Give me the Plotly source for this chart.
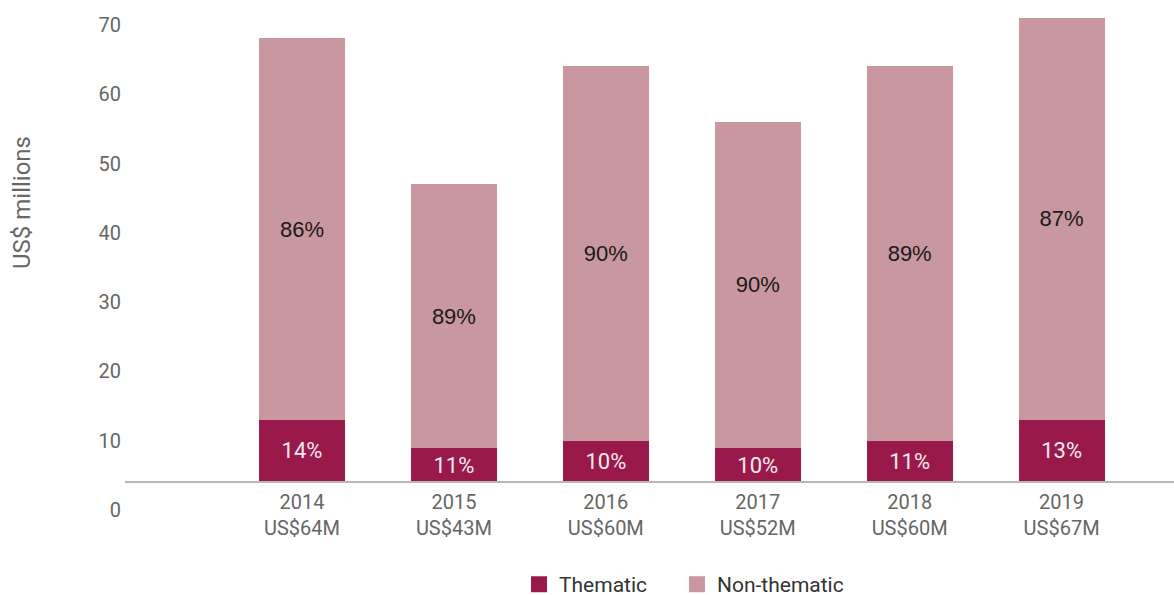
import plotly.graph_objects as go

years = ["2014", "2015", "2016", "2017", "2018", "2019"]
totals_label = ["US$64M", "US$43M", "US$60M", "US$52M", "US$60M", "US$67M"]
thematic = [9.0, 4.9, 5.9, 4.9, 5.9, 9.0]
non_thematic = [55.0, 38.1, 54.1, 47.1, 54.1, 58.0]
thematic_pct = [14, 11, 10, 10, 11, 13]
non_thematic_pct = [86, 89, 90, 90, 89, 87]
y_ticks = [0, 10, 20, 30, 40, 50, 60, 70]

THEMATIC = "#991a4a"
NON_THEMATIC = "#c9979f"
GREY = "#666666"

cats = [f"{y}<br>{t}" for y, t in zip(years, totals_label)]

fig = go.Figure()

fig.add_trace(go.Bar(
    x=cats, y=thematic, name="Thematic",
    marker=dict(color=THEMATIC, line=dict(width=0)),
    text=[f"{p}%" for p in thematic_pct],
    textposition="inside", insidetextanchor="middle", textangle=0,
    constraintext="none",
    textfont=dict(family="Roboto", size=22, color="#f6eaf0"),
    width=0.566, showlegend=False,
))
fig.add_trace(go.Bar(
    x=cats, y=non_thematic, name="Non-thematic",
    marker=dict(color=NON_THEMATIC, line=dict(width=0)),
    text=[f"{p}%" for p in non_thematic_pct],
    textposition="inside", insidetextanchor="middle", textangle=0,
    constraintext="none",
    textfont=dict(family="Liberation Sans", size=22, color="#1a1a1a"),
    width=0.566, showlegend=False,
))

# legend entries with bigger square swatches, one legend each so the gap matches
for name, col, lg in [("Thematic", THEMATIC, "legend"),
                      ("Non-thematic", NON_THEMATIC, "legend2")]:
    fig.add_trace(go.Scatter(
        x=[None], y=[None], mode="markers", name=name, legend=lg,
        marker=dict(symbol="square", size=16, color=col),
    ))

# tick labels in the source sit about 4 units below their gridline value
offset = 4.05

legend_style = dict(
    orientation="h", xanchor="left", y=-0.105, yanchor="middle",
    font=dict(size=21, color="#333333"), itemwidth=30,
)

fig.update_layout(
    width=1174, height=595,
    margin=dict(l=125, r=0, t=10, b=65, autoexpand=False),
    barmode="stack",
    plot_bgcolor="white", paper_bgcolor="white",
    font=dict(family="Roboto", color=GREY),
    xaxis=dict(
        type="category", range=[-1.165, 5.74],
        anchor="free", position=(530 - 482) / 520,
        showline=True, linecolor="#b8b8b8", linewidth=1.5,
        ticks="", showgrid=False, zeroline=False, automargin=False,
        tickfont=dict(size=20, color=GREY), ticklabelstandoff=2,
    ),
    yaxis=dict(
        range=[-6.93, 68.11],
        tickvals=[v - offset for v in y_ticks],
        ticktext=[str(v) for v in y_ticks],
        showgrid=False, zeroline=False, showline=False, ticks="",
        automargin=False,
        tickfont=dict(size=20, color=GREY),
        ticklabelstandoff=3,
    ),
    legend=dict(x=0.3756, **legend_style),
    legend2=dict(x=0.5262, **legend_style),
    annotations=[dict(
        text="US$ millions", xref="paper", yref="paper",
        x=(22 - 125) / 1049, y=(530 - 202) / 520,
        xanchor="center", yanchor="middle", textangle=-90,
        showarrow=False, font=dict(size=24, color=GREY),
    )],
)

fig.write_html("out.html", config={"displayModeBar": False},
               post_script="document.body.style.margin='0';")
